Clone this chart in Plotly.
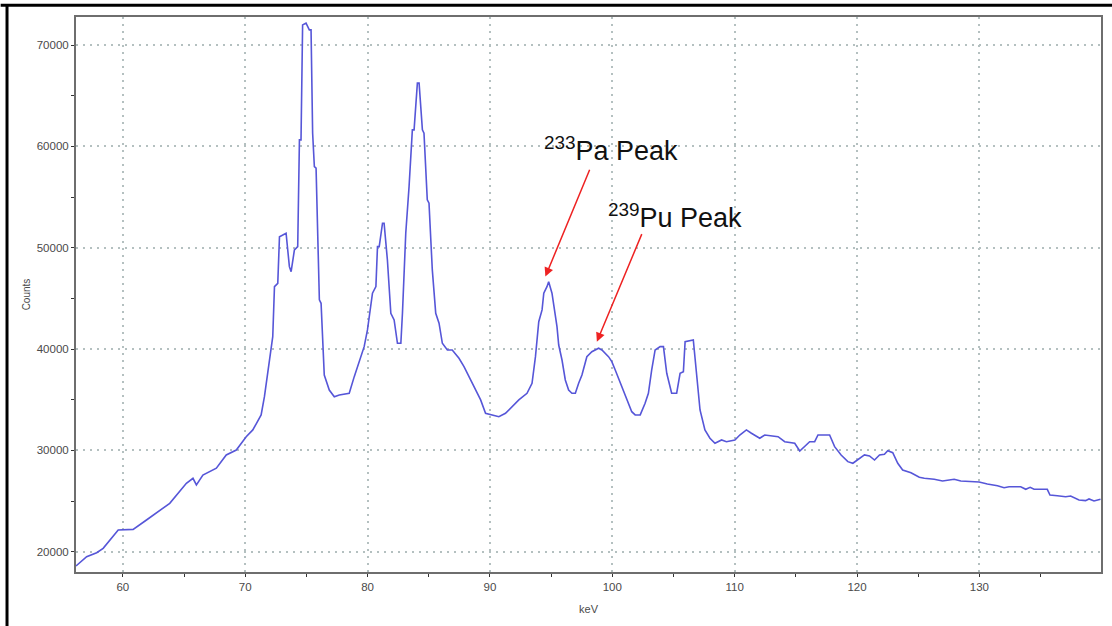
import plotly.graph_objects as go

kev = [56.17, 57.04, 57.86, 58.39, 59.62, 60.84, 61.93, 63.02, 63.83, 65.19, 65.73, 66.01, 66.54, 67.64,
       68.45, 69.27, 70.08, 70.62, 71.30, 71.57, 71.98, 72.25, 72.39, 72.66, 72.80, 73.34, 73.61, 73.75,
       74.02, 74.29, 74.43, 74.56, 74.69, 74.97, 75.24, 75.38, 75.51, 75.65, 75.79, 76.06, 76.20, 76.46,
       76.87, 77.28, 77.69, 78.50, 78.91, 79.45, 79.72, 79.99, 80.40, 80.68, 80.81, 80.95, 81.22, 81.35,
       81.62, 81.90, 82.17, 82.44, 82.72, 82.85, 83.12, 83.39, 83.66, 83.80, 84.07, 84.21, 84.48, 84.61,
       84.88, 85.02, 85.29, 85.57, 85.84, 86.11, 86.52, 86.92, 87.47, 87.88, 88.55, 89.24, 89.64, 90.73,
       91.27, 91.81, 92.36, 93.03, 93.44, 93.72, 93.99, 94.26, 94.40, 94.66, 94.80, 95.07, 95.21, 95.48,
       95.62, 95.89, 96.16, 96.43, 96.70, 96.98, 97.25, 97.52, 97.92, 98.33, 98.88, 99.15, 99.69, 99.96,
       100.24, 100.78, 101.32, 101.59, 101.87, 102.28, 102.68, 102.95, 103.22, 103.50, 103.91, 104.18,
       104.45, 104.85, 105.26, 105.54, 105.81, 105.95, 106.62, 106.89, 107.17, 107.57, 107.98, 108.39,
       108.93, 109.33, 110.02, 110.42, 110.96, 111.37, 112.05, 112.46, 113.55, 114.09, 114.91, 115.32,
       115.72, 116.13, 116.54, 116.81, 117.76, 118.17, 118.70, 119.25, 119.66, 120.07, 120.61, 121.02,
       121.43, 121.84, 122.24, 122.51, 122.92, 123.33, 123.73, 124.41, 125.09, 125.50, 126.31, 126.99,
       127.94, 128.48, 129.29, 129.98, 130.65, 131.48, 132.02, 132.43, 133.38, 133.79, 134.15, 134.47,
       135.55, 135.77, 136.37, 137.05, 137.46, 138.14, 138.68, 138.96, 139.37, 139.90]

counts = [18590, 19510, 19900, 20340, 22150, 22210, 23130, 24120, 24780, 26750, 27250, 26590, 27570, 28240,
          29550, 30040, 31350, 32020, 33500, 35300, 39090, 41220, 46160, 46490, 51090, 51430, 48130, 47640,
          49780, 50110, 60640, 60640, 71990, 72160, 71500, 71500, 61300, 58000, 57850, 44850, 44520, 37440,
          35960, 35300, 35470, 35640, 37280, 39250, 40240, 41890, 45510, 46160, 50110, 50110, 52420, 52420,
          48790, 43530, 42870, 40570, 40570, 43530, 51430, 56030, 61630, 61630, 66240, 66240, 61630, 61300,
          54720, 54390, 47810, 43530, 42550, 40570, 39910, 39910, 39090, 38260, 36620, 34980, 33660, 33330,
          33660, 34320, 34980, 35640, 36620, 39250, 42700, 43860, 45510, 46160, 46650, 45510, 44350, 42210,
          40400, 38920, 36950, 35960, 35640, 35640, 36620, 37440, 39250, 39740, 40080, 39910, 39250, 38760,
          37940, 36290, 34650, 33820, 33500, 33500, 34650, 35640, 37940, 39910, 40240, 40240,
          37610, 35640, 35640, 37610, 37770, 40730, 40900, 37280, 33990, 32020, 31200, 30700,
          31030, 30860, 31030, 31520, 32020, 31690, 31200, 31520, 31350, 30860, 30700, 29940,
          30370, 30860, 30860, 31520, 31520, 30370, 29550, 28890, 28730, 29120, 29550, 29450,
          29050, 29550, 29620, 29970, 29770, 28730, 28070, 27800, 27350, 27250, 27150, 26980,
          27150, 26980, 26910, 26880, 26690, 26520, 26320, 26420, 26420, 26160, 26360, 26160,
          26160, 25600, 25530, 25430, 25500, 25110, 25040, 25210, 25010, 25180]

x_ticks = [60, 70, 80, 90, 100, 110, 120, 130]
y_ticks = [20000, 30000, 40000, 50000, 60000, 70000]

# annotations: label text, label centre, arrow head and arrow tail (data units)
peak_labels = ["<sup>233</sup>Pa Peak", "<sup>239</sup>Pu Peak"]
label_x = [99.93, 105.15]
label_y = [59700, 53100]
head_x = [94.53, 98.74]
head_y = [47150, 40730]
tail_x = [98.20, 102.46]
tail_y = [57850, 51490]

FONT = "Liberation Sans, Arial"

fig = go.Figure()
fig.add_trace(go.Scatter(x=kev, y=counts, mode="lines",
                         line=dict(color="#5656d8", width=1.6), showlegend=False))

axis_common = dict(
    showline=True, linecolor="#6e6e6e", linewidth=2, mirror=True,
    showgrid=True, gridcolor="#b4c0c0", griddash="2px,5px", gridwidth=1.5,
    ticks="outside", ticklen=3, tickcolor="#333", tickwidth=1,
    tickfont=dict(family=FONT, size=11.5, color="#4a4a4a"),
    zeroline=False,
    minor=dict(ticks="outside", ticklen=3, tickcolor="#333", showgrid=False),
)

fig.update_xaxes(range=[56.17, 139.94], tickvals=x_ticks,
                 minor_dtick=5, minor_tick0=55,
                 title=dict(text="keV", font=dict(family=FONT, size=11, color="#4a4a4a"), standoff=14),
                 **axis_common)
fig.update_yaxes(range=[18000, 72770], tickvals=y_ticks, tickformat="d",
                 minor_dtick=5000, minor_tick0=15000,
                 title=dict(text="Counts", font=dict(family=FONT, size=10, color="#4a4a4a"), standoff=4),
                 **axis_common)

for i in range(len(peak_labels)):
    fig.add_annotation(x=head_x[i], y=head_y[i], ax=tail_x[i], ay=tail_y[i],
                       xref="x", yref="y", axref="x", ayref="y",
                       text="", showarrow=True, arrowhead=2, arrowsize=1.2,
                       arrowwidth=1.5, arrowcolor="#ee2222")
    fig.add_annotation(x=label_x[i], y=label_y[i], xref="x", yref="y",
                       text=peak_labels[i], showarrow=False,
                       xanchor="center", yanchor="middle",
                       font=dict(family=FONT, size=27, color="#111"))

# outer frame lines (top and left edges of the image border)
fig.add_shape(type="line", xref="paper", yref="paper", x0=-0.0735, x1=1.02, y0=1.021, y1=1.021,
              line=dict(color="#000", width=3))
fig.add_shape(type="line", xref="paper", yref="paper", x0=-0.0673, x1=-0.0673, y0=1.022, y1=-0.1,
              line=dict(color="#000", width=3))

fig.update_layout(
    width=1112, height=626,
    margin=dict(l=76, r=9, t=17, b=54),
    plot_bgcolor="white", paper_bgcolor="white",
)

fig.write_html("out.html")
